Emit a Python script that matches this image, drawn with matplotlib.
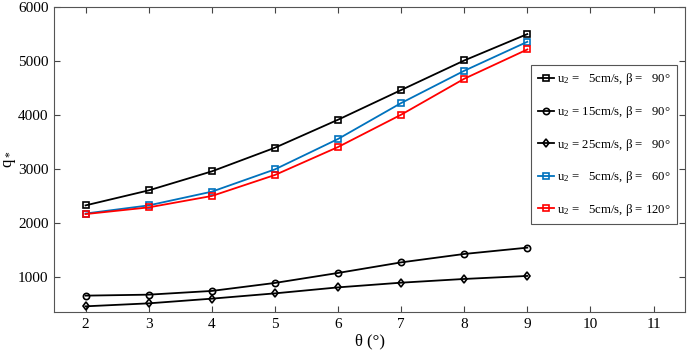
import matplotlib
matplotlib.use("Agg")
import matplotlib.pyplot as plt

plt.rcParams['font.family'] = ['Liberation Serif', 'DejaVu Serif']
plt.rcParams['mathtext.fontset'] = 'custom'
plt.rcParams['mathtext.rm'] = 'Liberation Serif'
plt.rcParams['mathtext.it'] = 'Liberation Serif'

theta = [2, 3, 4, 5, 6, 7, 8, 9]
s_5_90 = [2326, 2604, 2956, 3394, 3913, 4463, 5011, 5500]
s_15_90 = [654, 672, 741, 889, 1074, 1270, 1426, 1543]
s_25_90 = [456, 511, 598, 696, 807, 894, 963, 1019]
s_5_60 = [2175, 2326, 2580, 2993, 3556, 4222, 4820, 5357]
s_5_120 = [2165, 2289, 2500, 2889, 3407, 4006, 4672, 5215]

labels = [
    "u$_2$ =   5cm/s, β =   90°",
    "u$_2$ = 15cm/s, β =   90°",
    "u$_2$ = 25cm/s, β =   90°",
    "u$_2$ =   5cm/s, β =   60°",
    "u$_2$ =   5cm/s, β = 120°",
]
series = [s_5_90, s_15_90, s_25_90, s_5_60, s_5_120]
colors = ['black', 'black', 'black', '#0072BD', '#FF0000']
markers = ['s', 'o', 'd', 's', 's']

fig = plt.figure(figsize=(6.92, 3.55), dpi=100)
ax = fig.add_axes([0.078, 0.121, 0.912, 0.859])
for y, c, m, l in zip(series, colors, markers, labels):
    ax.plot(theta, y, color=c, marker=m, markerfacecolor='none', markersize=4.5,
            markeredgewidth=1.2, linewidth=1.3, label=l)

ax.set_xlim(1.5, 11.5)
ax.set_ylim(350, 6000)
ax.set_xticks(range(2, 12))
ax.set_yticks([1000, 2000, 3000, 4000, 5000, 6000])
ax.tick_params(direction='in', top=True, right=True, labelsize=11, color='#444444', length=4, pad=4)
for sp in ax.spines.values():
    sp.set_color('#555555')
    sp.set_linewidth(0.8)
ax.set_xlabel("θ (°)", fontsize=12, labelpad=2)
ax.set_ylabel("q$_*$", fontsize=12)
ax.yaxis.set_label_coords(-0.057, 0.5)

leg = ax.legend(loc='upper right', bbox_to_anchor=(0.987, 0.81), fontsize=9.2,
                handlelength=1.3, handletextpad=0.2, labelspacing=1.3,
                borderpad=0.5, borderaxespad=0, fancybox=False, framealpha=1,
                edgecolor='#555555')
leg.get_frame().set_linewidth(0.8)

fig.savefig("out.png", dpi=100)
